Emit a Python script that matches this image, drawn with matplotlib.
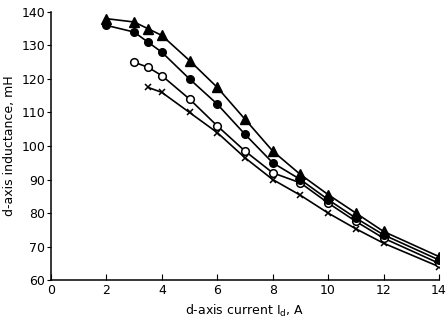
import matplotlib.pyplot as plt

# d-axis current (A)
x_tri = [2, 3, 3.5, 4, 5, 6, 7, 8, 9, 10, 11, 12, 14]
y_tri = [138, 137, 135, 133, 125.5, 117.5, 108, 98.5, 91.5, 85.5, 80, 74.5, 67]

x_dot = [2, 3, 3.5, 4, 5, 6, 7, 8, 9, 10, 11, 12, 14]
y_dot = [136, 134, 131, 128, 120, 112.5, 103.5, 95, 90, 84, 78.5, 73.5, 66]

x_open = [3, 3.5, 4, 5, 6, 7, 8, 9, 10, 11, 12, 14]
y_open = [125, 123.5, 121, 114, 106, 98.5, 92, 89, 83, 77.5, 72.5, 65]

x_cross = [3.5, 4, 5, 6, 7, 8, 9, 10, 11, 12, 14]
y_cross = [117.5, 116, 110, 104, 96.5, 90, 85.3, 80, 75.3, 71, 64]

x_ticks = [0, 2, 4, 6, 8, 10, 12, 14]
y_ticks = [60, 70, 80, 90, 100, 110, 120, 130, 140]

plt.rcParams["font.family"] = "DejaVu Sans"
fig = plt.figure(figsize=(4.47, 3.23), dpi=100)
ax = fig.add_axes([0.114, 0.133, 0.868, 0.83])

ax.plot(x_cross, y_cross, color="black", lw=1.2, marker="x", ms=5, mew=1.1)
ax.plot(x_open, y_open, color="black", lw=1.2, marker="o", ms=5.5,
        mfc="white", mec="black", mew=1.1)
ax.plot(x_dot, y_dot, color="black", lw=1.2, marker="o", ms=5.5, mfc="black")
ax.plot(x_tri, y_tri, color="black", lw=1.2, marker="^", ms=6.5, mfc="black")

ax.set_xlim(0, 14)
ax.set_ylim(60, 140)
ax.set_xticks(x_ticks)
ax.set_yticks(y_ticks)
ax.spines["top"].set_visible(False)
ax.spines["right"].set_visible(False)
ax.spines["left"].set_linewidth(1.1)
ax.spines["bottom"].set_linewidth(1.1)
ax.tick_params(axis="x", direction="in", length=4, labelsize=9, pad=3)
ax.tick_params(axis="y", direction="out", length=3, labelsize=9, pad=1)
ax.set_xlabel("d-axis current I$_{\\rm d}$, A", fontsize=9, labelpad=4)
ax.set_ylabel("d-axis inductance, mH", fontsize=9, labelpad=4)

fig.savefig("out.png", dpi=100)
